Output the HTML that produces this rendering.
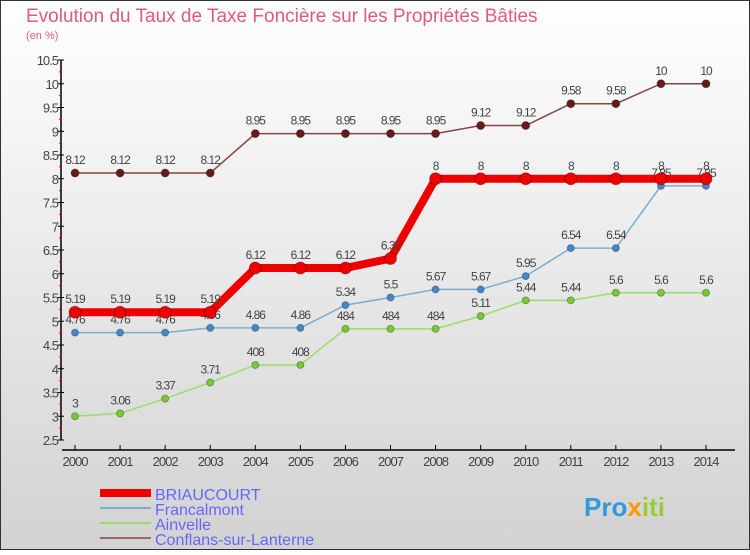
<!DOCTYPE html>
<html><head><meta charset="utf-8"><style>
body{margin:0;width:750px;height:550px;overflow:hidden;font-family:"Liberation Sans",sans-serif}
</style></head><body>
<svg width="750" height="550" xmlns="http://www.w3.org/2000/svg">
<defs><linearGradient id="bg" x1="0" y1="0" x2="0" y2="1"><stop offset="0" stop-color="#ffffff"/><stop offset="1" stop-color="#d2d2d2"/></linearGradient></defs>
<rect x="0.5" y="0.5" width="749" height="549" fill="url(#bg)" stroke="#333"/>
<text x="26" y="22" font-size="19" fill="#e05a7a">Evolution du Taux de Taxe Foncière sur les Propriétés Bâties</text>
<text x="26" y="39" font-size="11" fill="#e05a7a">(en %)</text>
<g id="axes"></g><g id="series"></g>
<g>
<rect x="100" y="489" width="51" height="8" fill="#e00"/>
<text x="155" y="500" font-size="16" fill="#6666ff">BRIAUCOURT</text>
<rect x="100" y="507" width="51" height="2" fill="#7aaed0"/>
<text x="155" y="515" font-size="16" fill="#6666ff">Francalmont</text>
<rect x="100" y="522" width="51" height="2" fill="#99dd66"/>
<text x="155" y="530" font-size="16" fill="#6666ff">Ainvelle</text>
<rect x="100" y="537" width="51" height="2" fill="#996666"/>
<text x="155" y="545" font-size="16" fill="#6666ff">Conflans-sur-Lanterne</text>
</g>
<text x="584" y="516" font-size="26" font-weight="bold"><tspan fill="#3399dd">Pro</tspan><tspan fill="#ff9900">x</tspan><tspan fill="#99cc33">iti</tspan></text>
</svg>
<script>
const years=[2000,2001,2002,2003,2004,2005,2006,2007,2008,2009,2010,2011,2012,2013,2014];
const yTicks=[2.5,3,3.5,4,4.5,5,5.5,6,6.5,7,7.5,8,8.5,9,9.5,10,10.5];
const briaucourt=[5.19,5.19,5.19,5.19,6.12,6.12,6.12,6.32,8,8,8,8,8,8,8];
const francalmont=[4.76,4.76,4.76,4.86,4.86,4.86,5.34,5.5,5.67,5.67,5.95,6.54,6.54,7.85,7.85];
const ainvelle=[3,3.06,3.37,3.71,4.08,4.08,4.84,4.84,4.84,5.11,5.44,5.44,5.6,5.6,5.6];
const conflans=[8.12,8.12,8.12,8.12,8.95,8.95,8.95,8.95,8.95,9.12,9.12,9.58,9.58,10,10];
const briLabels=["5.19","5.19","5.19","5.19","6.12","6.12","6.12","6.32","8","8","8","8","8","8","8"];
const fraLabels=["4.76","4.76","4.76","4.86","4.86","4.86","5.34","5.5","5.67","5.67","5.95","6.54","6.54","7.85","7.85"];
const ainLabels=["3","3.06","3.37","3.71","408","408","484","484","484","5.11","5.44","5.44","5.6","5.6","5.6"];
const conLabels=["8.12","8.12","8.12","8.12","8.95","8.95","8.95","8.95","8.95","9.12","9.12","9.58","9.58","10","10"];
const NS="http://www.w3.org/2000/svg";
const X=i=>75+i*(631/14);
const Y=v=>440-(v-2.5)*47.5;
function mk(t,a,p){const e=document.createElementNS(NS,t);for(const k in a)e.setAttribute(k,a[k]);p.appendChild(e);return e;}
const ax=document.getElementById('axes'),sg=document.getElementById('series');
let l=mk('line',{x1:61,y1:60,x2:61,y2:440,stroke:'#000','stroke-width':1.5},ax);

l=mk('line',{x1:62,y1:450,x2:735,y2:450,stroke:'#000','stroke-width':1.5},ax);

yTicks.forEach((v,i)=>{
 const y=Y(v);
 mk('line',{x1:58,y1:y,x2:64,y2:y,stroke:'#000'},ax);
 if(i<yTicks.length-1)mk('line',{x1:59,y1:Y(v+0.25),x2:62,y2:Y(v+0.25),stroke:'#e00'},ax);
 const t=mk('text',{x:58,y:y+5,'font-size':13,fill:'#444','text-anchor':'end','letter-spacing':'-1'},ax);
 t.textContent=String(v);
 
});
years.forEach((yr,i)=>{
 mk('line',{x1:X(i),y1:445,x2:X(i),y2:450,stroke:'#000'},ax);
 const t=mk('text',{x:X(i),y:466,'font-size':13,fill:'#444','text-anchor':'middle','letter-spacing':'-1'},ax);
 t.textContent=yr;
 
});
function series(vals,labels,color,dot,w,r,name){
 const g=mk('g',{},sg);
 
 const pts=vals.map((v,i)=>X(i)+','+Y(v)).join(' ');
 const p=mk('polyline',{points:pts,fill:'none',stroke:color,'stroke-width':w,'stroke-linejoin':'round'},g);
 
 vals.forEach((v,i)=>{
  const c=mk('circle',{cx:X(i),cy:Y(v),r:r,fill:dot,stroke:'rgba(0,0,0,0.3)'},g);
  
  const t=mk('text',{x:X(i),y:Y(v)-9,'font-size':12,fill:'#444','text-anchor':'middle','letter-spacing':'-1'},g);
  t.textContent=labels[i];
  
 });
}
series(ainvelle,ainLabels,'#99dd66','#77cc33',1.5,3.5,'ainvelle');
series(francalmont,fraLabels,'#7aaed0','#4488cc',1.5,3.5,'francalmont');
series(conflans,conLabels,'#884444','#661a1a',1.5,4,'conflans');
series(briaucourt,briLabels,'#ee0000','#ee0000',8,6,'briaucourt');
</script>
</body></html>
